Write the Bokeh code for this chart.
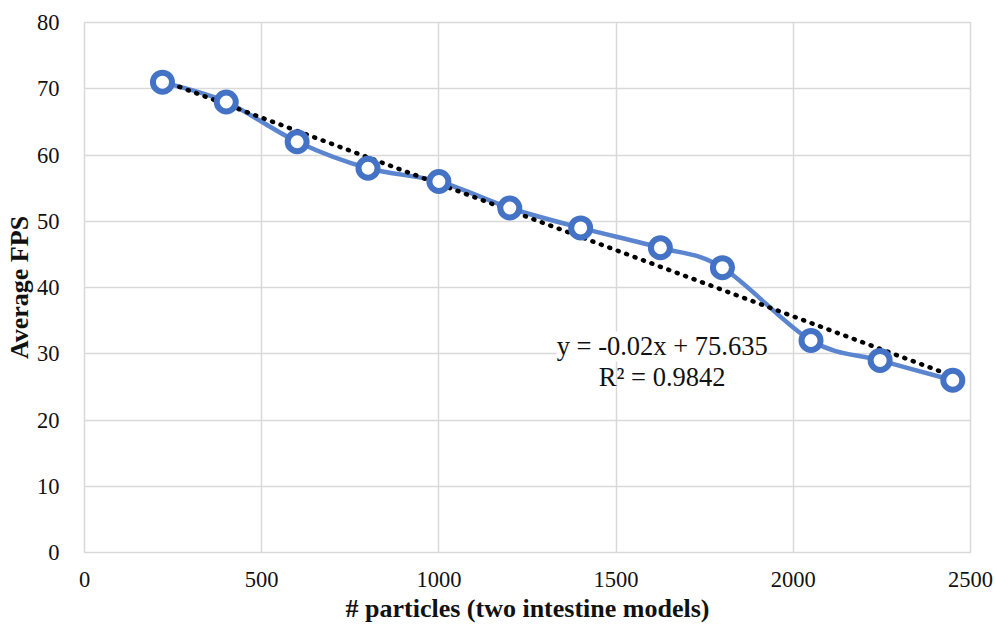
from bokeh.plotting import figure
from bokeh.models import FixedTicker, Label, Range1d
from bokeh.embed import file_html
from bokeh.resources import INLINE

particles = [220, 400, 600, 800, 1000, 1200, 1400, 1625, 1800, 2050, 2245, 2450]
fps = [71, 68, 62, 58, 56, 52, 49, 46, 43, 32, 29, 26]
x_ticks = [0, 500, 1000, 1500, 2000, 2500]
y_ticks = [0, 10, 20, 30, 40, 50, 60, 70, 80]
trend_slope = -0.02
trend_intercept = 75.635
eq_text = "y = -0.02x + 75.635"
r2_text = "R\u00b2 = 0.9842"

FONT = "Liberation Serif"

p = figure(width=995, height=625, output_backend="svg", toolbar_location=None,
           x_range=Range1d(0, 2500), y_range=Range1d(0, 80),
           min_border_left=84, min_border_right=25, min_border_top=22, min_border_bottom=73)
p.background_fill_color = "white"
p.border_fill_color = "white"
p.outline_line_color = "#d9d9d9"
p.outline_line_width = 1.5

for ax in (p.xaxis[0], p.yaxis[0]):
    ax.axis_line_color = None
    ax.major_tick_line_color = None
    ax.minor_tick_line_color = None
    ax.major_label_text_font = FONT
    ax.major_label_text_font_size = "22.5px"
    ax.major_label_text_color = "#111111"
    ax.axis_label_text_font = FONT
    ax.axis_label_text_font_style = "bold"
    ax.axis_label_text_font_size = "26px"
    ax.axis_label_text_color = "#111111"

p.xaxis.ticker = FixedTicker(ticks=x_ticks)
p.yaxis.ticker = FixedTicker(ticks=y_ticks)
p.xaxis.major_label_standoff = 13
p.yaxis.major_label_standoff = 19
p.xaxis.axis_label = "# particles (two intestine models)"
p.yaxis.axis_label = "Average FPS"
p.xaxis.axis_label_standoff = 4
p.yaxis.axis_label_standoff = 0

p.xgrid.ticker = FixedTicker(ticks=x_ticks)
p.ygrid.ticker = FixedTicker(ticks=y_ticks)
p.grid.grid_line_color = "#d9d9d9"
p.grid.grid_line_width = 1.5

# smoothed line (Bezier segments with Catmull-Rom style control points)
n = len(particles)
x0s, y0s, x1s, y1s, cx0, cy0, cx1, cy1 = [], [], [], [], [], [], [], []
for i in range(n - 1):
    xa, ya = particles[i], fps[i]
    xb, yb = particles[i + 1], fps[i + 1]
    xp, yp = (particles[i - 1], fps[i - 1]) if i > 0 else (xa, ya)
    xn, yn = (particles[i + 2], fps[i + 2]) if i + 2 < n else (xb, yb)
    x0s.append(xa); y0s.append(ya); x1s.append(xb); y1s.append(yb)
    cx0.append(xa + (xb - xp) / 6); cy0.append(ya + (yb - yp) / 6)
    cx1.append(xb - (xn - xa) / 6); cy1.append(yb - (yn - ya) / 6)
p.bezier(x0=x0s, y0=y0s, x1=x1s, y1=y1s, cx0=cx0, cy0=cy0, cx1=cx1, cy1=cy1,
         line_color="#5b86cf", line_width=4.5)

# trendline
tx = [particles[0], particles[-1]]
ty = [trend_slope * v + trend_intercept for v in tx]
p.line(tx, ty, line_color="black", line_width=4.5, line_dash="1 8", line_cap="round")

p.scatter(particles, fps, size=19, marker="circle", fill_color="white",
          line_color="#4472c4", line_width=6)

p.add_layout(Label(x=1630, y=31.1, text=eq_text, text_align="center", text_baseline="middle",
                   text_font=FONT, text_font_size="26.5px", text_color="#111111",
                   background_fill_color="white"))
p.add_layout(Label(x=1630, y=26.5, text=r2_text, text_align="center", text_baseline="middle",
                   text_font=FONT, text_font_size="26.5px", text_color="#111111"))

open("out.html", "w").write(file_html(p, INLINE))
